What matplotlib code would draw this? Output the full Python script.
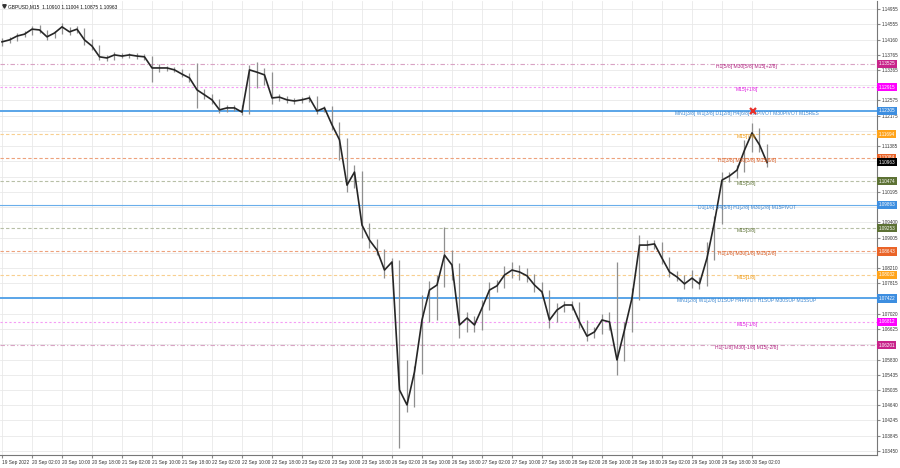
import matplotlib
matplotlib.use("Agg")
import matplotlib.pyplot as plt
import numpy as np

plt.rcParams['font.family'] = ['Liberation Sans', 'DejaVu Sans']

# 2-hour bars, GBPUSD, from 19 Sep 2022 18:00
close = [1.1410, 1.1415, 1.1425, 1.1430, 1.1443, 1.1441, 1.1423, 1.1433, 1.1449, 1.1436,
         1.1443, 1.1415, 1.1399, 1.1371, 1.1368, 1.1376, 1.1373, 1.1376, 1.1373, 1.1371,
         1.1342, 1.1342, 1.1342, 1.1337, 1.1326, 1.1316, 1.1285, 1.1272, 1.1259, 1.1233,
         1.1238, 1.1238, 1.1227, 1.1337, 1.1331, 1.1324, 1.1264, 1.1266, 1.1259, 1.1256,
         1.1259, 1.1264, 1.1230, 1.1238, 1.1194, 1.1155, 1.1037, 1.1071, 1.0933, 1.0894,
         1.0868, 1.0816, 1.0837, 1.0504, 1.0465, 1.0551, 1.0686, 1.0764, 1.0777, 1.0855,
         1.0829, 1.0673, 1.0691, 1.0673, 1.0717, 1.0764, 1.0775, 1.0803, 1.0816, 1.0811,
         1.0801, 1.0777, 1.0759, 1.0686, 1.0712, 1.0725, 1.0725, 1.0681, 1.0644, 1.0655,
         1.0686, 1.0681, 1.0582, 1.0660, 1.0743, 1.0881, 1.0881, 1.0884, 1.0847, 1.0811,
         1.0798, 1.0780, 1.0795, 1.0780, 1.0847, 1.0941, 1.1050, 1.1061, 1.1076, 1.1128,
         1.1173, 1.1142, 1.1096]
high = [1.1420, 1.1423, 1.1433, 1.1438, 1.1451, 1.1454, 1.1441, 1.1438, 1.1459, 1.1449,
        1.1451, 1.1445, 1.1418, 1.1401, 1.1376, 1.1384, 1.1381, 1.1381, 1.1381, 1.1378,
        1.1374, 1.1352, 1.1347, 1.1344, 1.1340, 1.1330, 1.1355, 1.1288, 1.1275, 1.1262,
        1.1246, 1.1246, 1.1246, 1.1350, 1.1358, 1.1342, 1.1331, 1.1274, 1.1269, 1.1264,
        1.1266, 1.1272, 1.1268, 1.1243, 1.1242, 1.1201, 1.1160, 1.1089, 1.1075, 1.0938,
        1.0898, 1.0872, 1.0847, 1.0842, 1.0582, 1.0566, 1.0751, 1.0787, 1.0803, 1.0928,
        1.0868, 1.0834, 1.0707, 1.0697, 1.0738, 1.0785, 1.0790, 1.0827, 1.0837, 1.0829,
        1.0821, 1.0805, 1.0785, 1.0763, 1.0730, 1.0735, 1.0735, 1.0733, 1.0685, 1.0668,
        1.0702, 1.0707, 1.0837, 1.0681, 1.0769, 1.0907, 1.0894, 1.0894, 1.0889, 1.0851,
        1.0814, 1.0802, 1.0816, 1.0799, 1.0889, 1.0957, 1.1071, 1.1071, 1.1089, 1.1155,
        1.1199, 1.1186, 1.1145]
low = [1.1399, 1.1407, 1.1412, 1.1423, 1.1427, 1.1433, 1.1415, 1.1420, 1.1430, 1.1428,
       1.1433, 1.1402, 1.1389, 1.1363, 1.1360, 1.1364, 1.1368, 1.1368, 1.1365, 1.1363,
       1.1305, 1.1331, 1.1334, 1.1331, 1.1318, 1.1305, 1.1238, 1.1261, 1.1248, 1.1225,
       1.1227, 1.1230, 1.1220, 1.1222, 1.1290, 1.1298, 1.1248, 1.1256, 1.1251, 1.1248,
       1.1251, 1.1253, 1.1222, 1.1227, 1.1181, 1.1102, 1.1019, 1.1030, 1.0899, 1.0873,
       1.0855, 1.0795, 1.0812, 1.0353, 1.0447, 1.0460, 1.0545, 1.0680, 1.0686, 1.0772,
       1.0790, 1.0639, 1.0655, 1.0655, 1.0660, 1.0712, 1.0759, 1.0769, 1.0795, 1.0790,
       1.0785, 1.0759, 1.0743, 1.0665, 1.0680, 1.0708, 1.0712, 1.0665, 1.0631, 1.0639,
       1.0650, 1.0660, 1.0543, 1.0578, 1.0655, 1.0738, 1.0868, 1.0871, 1.0832, 1.0798,
       1.0787, 1.0767, 1.0769, 1.0767, 1.0775, 1.0842, 1.0936, 1.1045, 1.1056, 1.1072,
       1.1124, 1.1123, 1.1084]

time_labels = ['19 Sep 2022', '20 Sep 02:00', '20 Sep 10:00', '20 Sep 18:00', '21 Sep 02:00',
               '21 Sep 10:00', '21 Sep 18:00', '22 Sep 02:00', '22 Sep 10:00', '22 Sep 18:00',
               '23 Sep 02:00', '23 Sep 10:00', '23 Sep 18:00', '26 Sep 02:00', '26 Sep 10:00',
               '26 Sep 18:00', '27 Sep 02:00', '27 Sep 10:00', '27 Sep 18:00', '28 Sep 02:00',
               '28 Sep 10:00', '28 Sep 18:00', '29 Sep 02:00', '29 Sep 10:00', '29 Sep 18:00',
               '30 Sep 02:00']

price_ticks = [1.14955, 1.14555, 1.14160, 1.13765, 1.13365, 1.12970, 1.12575, 1.12175,
               1.11780, 1.11385, 1.10990, 1.10590, 1.10195, 1.09800, 1.09400, 1.09005,
               1.08610, 1.08210, 1.07815, 1.07420, 1.07020, 1.06625, 1.06230, 1.05830,
               1.05435, 1.05035, 1.04640, 1.04245, 1.03845, 1.03450]

# Murrey math levels
levels = [1.13525, 1.12915, 1.12305, 1.11694, 1.11084, 1.10474, 1.09863,
          1.09253, 1.08643, 1.08032, 1.07422, 1.06812, 1.06201]
level_names = ['H1[5/8] M30[5/8] M15[+2/8]',
               'M15[+1/8]',
               'MN1[3/8] W1[3/8] D1[2/8] H4[6/8] H1PIVOT M30PIVOT M15RES',
               'M15[7/8]',
               'H1[3/8] M30[3/8] M15[6/8]',
               'M15[5/8]',
               'D1[1/8] H4[5/8] H1[2/8] M30[2/8] M15PIVOT',
               'M15[3/8]',
               'H1[1/8] M30[1/8] M15[2/8]',
               'M15[1/8]',
               'MN1[2/8] W1[2/8] D1SUP H4PIVOT H1SUP M30SUP M15SUP',
               'M15[-1/8]',
               'H1[-1/8] M30[-1/8] M15[-2/8]']
level_kind = ['dmag', 'mag', 'blue2', 'orange', 'red', 'olive', 'blue',
              'olive', 'red', 'orange', 'blue2', 'mag', 'dmag']
last_price = 1.10963
signal_x, signal_price = 100.1, 1.1231

styles = {
    'dmag':   dict(line='#d9a3c4', box='#c8248a', txt='#b0207e', ls=(0, (4, 2, 1, 2)), lw=0.8),
    'mag':    dict(line='#f59cf5', box='#ff00ff', txt='#e020e0', ls=(0, (2, 2)), lw=0.8),
    'blue2':  dict(line='#5aa5e8', box='#3d8ee0', txt='#3b86d0', ls='-', lw=1.4),
    'blue':   dict(line='#6aaeea', box='#3d8ee0', txt='#3b86d0', ls='-', lw=0.8),
    'orange': dict(line='#f8cf90', box='#ffa31a', txt='#f09a10', ls=(0, (3, 2)), lw=0.8),
    'red':    dict(line='#eda27c', box='#ea6428', txt='#d85a20', ls=(0, (3, 2)), lw=0.8),
    'olive':  dict(line='#b7bfa6', box='#5d7235', txt='#5d7235', ls=(0, (3, 2)), lw=0.8),
}

fig = plt.figure(figsize=(9, 4.68), dpi=100)
ax = fig.add_axes([0.0, 13 / 468, 877 / 900, 454 / 468])
ax.set_axisbelow(True)

x = np.arange(len(close))
ax.vlines(x, low, high, color='#8f8f8f', lw=0.9, zorder=3)
ax.plot(x, close, color='#262626', lw=1.2, zorder=4)

for lv, name, kind in zip(levels, level_names, level_kind):
    st = styles[kind]
    ax.axhline(lv, color=st['line'], ls=st['ls'], lw=st['lw'], zorder=2)
    ax.text(99.3, lv, name, color=st['txt'], fontsize=3.6, ha='center', va='top', zorder=5)
    ax.text(1.0015, lv, '%.5f' % lv, transform=ax.get_yaxis_transform(), fontsize=3.3,
            color='white', ha='left', va='center', clip_on=False, zorder=6,
            bbox=dict(boxstyle='square,pad=0.35', fc=st['box'], ec='none'))

ax.text(1.0015, last_price, '%.5f' % last_price, transform=ax.get_yaxis_transform(), fontsize=3.3,
        color='white', ha='left', va='center', clip_on=False, zorder=7,
        bbox=dict(boxstyle='square,pad=0.35', fc='black', ec='none'))

ax.plot(signal_x, signal_price, marker='x', color='#e8302a', ms=5, mew=1.6, zorder=6)

ax.set_xlim(-0.267, 116.67)
ax.set_ylim(1.03346, 1.15163)

ax.set_xticks(np.arange(0, 4 * len(time_labels), 4))
ax.set_xticklabels(time_labels, fontsize=3.4, color='#333333')
for lab in ax.get_xticklabels():
    lab.set_ha('left')
ax.tick_params(axis='x', length=2, pad=1.5, color='#888888')

# tick prices hidden behind the coloured price boxes are left blank, as on the terminal
boxed = levels + [last_price]
tick_text = ['' if min(abs(p - b) for b in boxed) < 0.0012 else '%.5f' % p for p in price_ticks]
ax.yaxis.tick_right()
ax.set_yticks(price_ticks)
ax.set_yticklabels(tick_text, fontsize=3.3, color='#333333')
ax.tick_params(axis='y', length=2, pad=1.5, color='#888888')

ax.grid(True, color='#e9e9e9', lw=0.6)
for side in ['top', 'left']:
    ax.spines[side].set_visible(False)
for side in ['right', 'bottom']:
    ax.spines[side].set_color('#777777')
    ax.spines[side].set_linewidth(0.8)

ax.text(0.009, 0.993, 'GBPUSD,M15  1.10910 1.11004 1.10875 1.10963', transform=ax.transAxes,
        fontsize=3.5, color='#111111', ha='left', va='top')
ax.plot([0.004], [0.989], marker='v', ms=2.5, color='#333333', transform=ax.transAxes, clip_on=False)

fig.savefig('out.png', dpi=100)
